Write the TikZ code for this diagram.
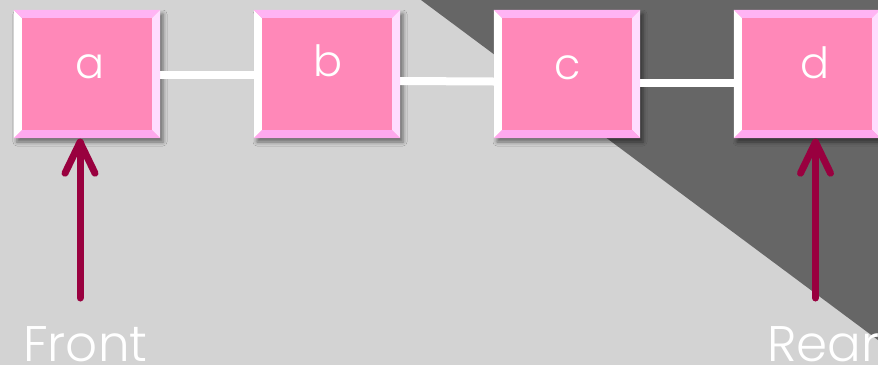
\documentclass[tikz,border=0pt]{standalone}
\usepackage{fontspec}
\setmainfont{Poppins}[UprightFont={* Light}]
\usetikzlibrary{shadows.blur}
\definecolor{bg}{HTML}{D3D3D3}
\definecolor{dk}{HTML}{666666}
\definecolor{boxpink}{HTML}{FF88B8}
\definecolor{bevtop}{HTML}{FFB4F4}
\definecolor{bevbot}{HTML}{FFA8EE}
\definecolor{bevright}{HTML}{FFDDFF}
\definecolor{arrowc}{HTML}{99003F}
\begin{document}
\begin{tikzpicture}[x=1pt,y=-1pt,
  box/.style={minimum width=146pt, minimum height=128pt, inner sep=0pt, fill=boxpink,
    blur shadow={shadow xshift=3pt, shadow yshift=-4pt, shadow blur radius=4pt, shadow opacity=50}},
  link/.style={white, line width=8pt},
  boxlabel/.style={anchor=base, text=white, inner sep=0pt, font=\fontsize{43}{43}\selectfont},
  pointer/.style={arrowc, line width=7pt, line cap=round, line join=round},
  caption/.style={anchor=base west, text=white, inner sep=0pt, font=\fontsize{50}{50}\selectfont}]
\useasboundingbox (0,0) rectangle (878,365);
\clip (0,0) rectangle (878,365);
\fill[bg] (0,0) rectangle (878,365);
\fill[dk] (421,0) -- (878,0) -- (878,340) -- cycle;
% boxes
\node[box] (a) at (87,74) {};
\node[box] (b) at (327,74) {};
\node[box] (c) at (567,74) {};
\node[box] (d) at (807,74) {};
% connectors
\draw[link] ([yshift=-0.5pt]a.east) -- ([yshift=-0.5pt]b.west);
\draw[link] ([yshift=-7pt]b.east) -- ([yshift=-7.5pt]c.west);
\draw[link] ([yshift=-8.5pt]c.east) -- ([yshift=-8.5pt]d.west);
% bevels
\foreach \n in {a,b,c,d} {
  \fill[white] (\n.north west) -- ([shift={(8,8)}]\n.north west) -- ([shift={(8,-8)}]\n.south west) -- (\n.south west) -- cycle;
  \fill[bevtop] (\n.north west) -- (\n.north east) -- ([shift={(-8,8)}]\n.north east) -- ([shift={(8,8)}]\n.north west) -- cycle;
  \fill[bevright] (\n.north east) -- (\n.south east) -- ([shift={(-8,-8)}]\n.south east) -- ([shift={(-8,8)}]\n.north east) -- cycle;
  \fill[bevbot] (\n.south west) -- (\n.south east) -- ([shift={(-8,-8)}]\n.south east) -- ([shift={(8,-8)}]\n.south west) -- cycle;
}
% labels
\node[boxlabel] (ta) at (90.5,78) {a};
\node[boxlabel] (tb) at (328.5,76) {b};
\node[boxlabel] (tc) at (567.5,79) {c};
\node[boxlabel] (td) at (815,78) {d};
% pointers
\coordinate (fa) at (80,298);
\coordinate (fd) at (815.5,298);
\path (a.south -| fa) coordinate (pa);
\path (d.south -| fd) coordinate (pd);
\coordinate (tipa) at ([yshift=-4pt]pa);
\coordinate (tipd) at ([yshift=-4pt]pd);
\draw[pointer] (fa) -- (tipa);
\draw[pointer] ([shift={(-15,31)}]tipa) -- (tipa) -- ([shift={(15,31)}]tipa);
\draw[pointer] (fd) -- (tipd);
\draw[pointer] ([shift={(-15,31)}]tipd) -- (tipd) -- ([shift={(15,31)}]tipd);
% captions
\node[caption] (front) at (23,361) {Front};
\node[caption] (rear) at (767,361) {Rear};
\end{tikzpicture}
\end{document}
